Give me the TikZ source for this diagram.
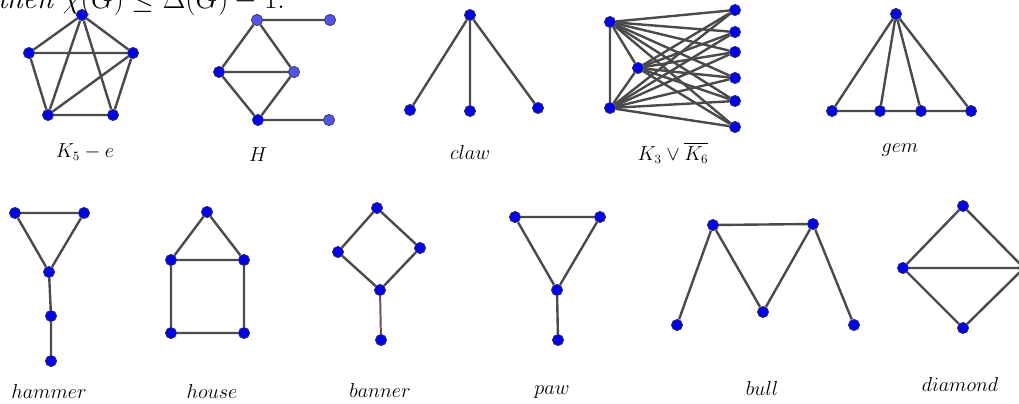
\documentclass[tikz,border=0pt]{standalone}
\usepackage{amsmath,amssymb}
\definecolor{vert}{HTML}{0000FF}
\definecolor{pale}{HTML}{5252FF}
\definecolor{edge}{HTML}{4A4A4A}
\definecolor{rust}{HTML}{7A4A4A}
\begin{document}
\begin{tikzpicture}[x=0.025cm,y=-0.025cm,
  vtx/.style={circle,draw=black!80,line width=0.5pt,fill=vert,inner sep=0pt,minimum size=0.28cm},
  pvtx/.style={vtx,fill=pale},
  edg/.style={draw=edge,line width=1.7pt},
  lbl/.style={font=\fontsize{13.5}{16}\selectfont}]
\useasboundingbox (0,0) rectangle (1019,403);
\node[anchor=base east,font=\fontsize{21.5}{26}\selectfont] (thm) at (290,8) {\textit{then} $\chi(G)\le\Delta(G)-1$.};
\node[vtx] (ka) at (82,15) {};
\node[vtx] (kb) at (29,53) {};
\node[vtx] (kc) at (133,53) {};
\node[vtx] (kd) at (48,115) {};
\node[vtx] (ke) at (113,115) {};
\draw[edg] (ka)--(kb) (ka)--(kc) (ka)--(kd) (ka)--(ke) (kb)--(kc) (kb)--(kd) (kc)--(kd) (kc)--(ke) (kd)--(ke);
\node[lbl] (kname) at (85,152) {$K_5-e$};
\node[pvtx] (ha) at (257,20) {};
\node[pvtx] (hb) at (330,20) {};
\node[vtx] (hc) at (219,72) {};
\node[pvtx] (hd) at (294,72) {};
\node[vtx] (he) at (258,120) {};
\node[pvtx] (hf) at (329,120) {};
\draw[edg] (ha)--(hb) (ha)--(hc) (ha)--(hd) (hc)--(hd) (hc)--(he) (hd)--(he) (he)--(hf);
\node[lbl] (hname) at (258,155) {$H$};
\node[vtx] (ca) at (470,15) {};
\node[vtx] (cb) at (410,110) {};
\node[vtx] (cc) at (470,111) {};
\node[vtx] (cd) at (538,108) {};
\draw[edg] (ca)--(cb) (ca)--(cc) (ca)--(cd);
\node[lbl] (cname) at (470,152) {$claw$};
\node[vtx] (jl1) at (610,22) {};
\node[vtx] (jl2) at (638,68) {};
\node[vtx] (jl3) at (610,108) {};
\foreach \y [count=\i] in {10,32,52,78,101,127}
  \node[vtx] (jr\i) at (735,\y) {};
\draw[edg] (jl1)--(jl2) (jl2)--(jl3) (jl1)--(jl3);
\foreach \i in {1,...,6}
  \foreach \j in {1,2,3}
    \draw[edg] (jl\j)--(jr\i);
\node[lbl] (jname) at (673,153) {$K_3\vee\overline{K_6}$};
\node[vtx] (ga) at (896,14) {};
\node[vtx] (gb) at (832,111) {};
\node[vtx] (gc) at (880,111) {};
\node[vtx] (gd) at (921,111) {};
\node[vtx] (ge) at (971,111) {};
\draw[edg] (ga)--(gb) (ga)--(gc) (ga)--(gd) (ga)--(ge) (gb)--(gc) (gc)--(gd) (gd)--(ge);
\node[lbl] (gname) at (900,150) {$gem$};
\node[vtx] (ma) at (15,213) {};
\node[vtx] (mb) at (84,213) {};
\node[vtx] (mc) at (49,272) {};
\node[vtx] (md) at (51,316) {};
\node[vtx] (me) at (51,361) {};
\draw[edg] (ma)--(mb) (ma)--(mc) (mb)--(mc) (mc)--(md) (md)--(me);
\node[lbl] (mname) at (49,391) {$hammer$};
\node[vtx] (oa) at (207,212) {};
\node[vtx] (ob) at (171,260) {};
\node[vtx] (oc) at (244,260) {};
\node[vtx] (od) at (171,333) {};
\node[vtx] (oe) at (244,333) {};
\draw[edg] (oa)--(ob) (oa)--(oc) (ob)--(oc) (ob)--(od) (oc)--(oe) (od)--(oe);
\node[lbl] (oname) at (212,391) {$house$};
\node[vtx] (ba) at (377,208) {};
\node[vtx] (bb) at (338,252) {};
\node[vtx] (bc) at (420,248) {};
\node[vtx] (bd) at (380,290) {};
\node[vtx] (be) at (381,340) {};
\draw[edg] (ba)--(bb) (ba)--(bc) (bb)--(bd) (bc)--(bd);
\draw[draw=rust,line width=1.4pt] (bd)--(be);
\node[lbl] (bname) at (380,390) {$banner$};
\node[vtx] (pa) at (515,217) {};
\node[vtx] (pb) at (600,217) {};
\node[vtx] (pc) at (557,290) {};
\node[vtx] (pd) at (558,340) {};
\draw[edg] (pa)--(pb) (pa)--(pc) (pb)--(pc) (pc)--(pd);
\node[lbl] (pname) at (552,392) {$paw$};
\node[vtx] (ua) at (713,225) {};
\node[vtx] (ub) at (813,224) {};
\node[vtx] (uc) at (763,312) {};
\node[vtx] (ud) at (677,325) {};
\node[vtx] (ue) at (854,325) {};
\draw[edg] (ua)--(ub) (ua)--(uc) (ub)--(uc) (ua)--(ud) (ub)--(ue);
\node[lbl] (uname) at (762,388) {$bull$};
\node[vtx] (da) at (963,206) {};
\node[vtx] (db) at (903,268) {};
\node[vtx] (dc) at (963,328) {};
\node[vtx] (dd) at (1024,268) {};
\draw[edg] (da)--(db) (da)--(dd) (db)--(dd) (db)--(dc) (dc)--(dd);
\node[lbl] (dname) at (960,384) {$diamond$};
\end{tikzpicture}
\end{document}
